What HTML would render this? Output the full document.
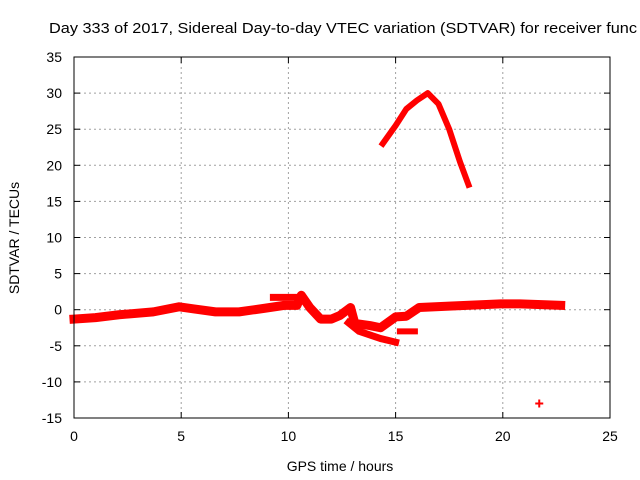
<!DOCTYPE html>
<html><head><meta charset="utf-8"><style>
body{margin:0;background:#fff;}
svg{display:block;font-family:"Liberation Sans",sans-serif;}
</style></head><body>
<svg id="chart" width="640" height="480" viewBox="0 0 640 480">
<text x="49" y="33" font-size="15" textLength="588" lengthAdjust="spacingAndGlyphs" fill="#000">Day 333 of 2017, Sidereal Day-to-day VTEC variation (SDTVAR) for receiver func</text>
<g id="grid"></g>
<g id="series"></g>
<rect x="74" y="57" width="536" height="361" fill="none" stroke="#000" stroke-width="1"/>
<g id="ticks"></g>
<text x="340" y="471" font-size="14" text-anchor="middle">GPS time / hours</text>
<text transform="translate(19,238) rotate(-90)" font-size="14" text-anchor="middle">SDTVAR / TECUs</text>
</svg>
<script>
const xTicks=[0,5,10,15,20,25];
const yTicks=[35,30,25,20,15,10,5,0,-5,-10,-15];
const mainH=[0,1,2.1,3.7,4.9,5.6,6.6,7.7,8.9,9.8,10.4,10.6,11,11.5,12,12.4,12.9,13.1,13.8,14.3,15,15.5,16.1,17.5,19.9,20.8,21.8,22.7];
const mainV=[-1.3,-1.1,-0.7,-0.3,0.4,0.1,-0.3,-0.3,0.2,0.6,0.6,2,0.3,-1.3,-1.3,-0.8,0.3,-1.9,-2.2,-2.5,-1,-0.9,0.3,0.5,0.8,0.8,0.7,0.6];
const lowH=[12.8,13.3,14.3,15];
const lowV=[-1.8,-3,-4,-4.5];
const lowH2=[15.2,15.9];
const lowV2=[-3,-3];
const segH=[9.3,10.3];
const segV=[1.7,1.7];
const arcH=[14.4,15,15.5,16,16.5,17,17.5,18,18.4];
const arcV=[23,25.5,27.8,29,30,28.5,25,20.5,17.3];
const ptH=[21.7];
const ptV=[-13];
const NS="http://www.w3.org/2000/svg";
const X=h=>74+h*536/25;
const Y=v=>57+(35-v)*361/50;
const grid=document.getElementById('grid'),ticks=document.getElementById('ticks'),ser=document.getElementById('series');
function mk(tag,attrs,parent){const e=document.createElementNS(NS,tag);for(const k in attrs)e.setAttribute(k,attrs[k]);parent.appendChild(e);return e;}
xTicks.forEach(t=>{
 const x=X(t);
 if(t>0&&t<25){const g=mk('line',{x1:x,x2:x,y1:57,y2:418,stroke:'#a0a0a0','stroke-dasharray':'2,3'},grid);
 
 }
 mk('line',{x1:x,x2:x,y1:418,y2:412,stroke:'#000'},ticks);
 mk('line',{x1:x,x2:x,y1:57,y2:63,stroke:'#000'},ticks);
 const l=mk('text',{x:x,y:441,'font-size':14,'text-anchor':'middle'},ticks);l.textContent=t;
 
 
});
yTicks.forEach(t=>{
 const y=Y(t);
 if(t<35&&t>-15){const g=mk('line',{x1:74,x2:610,y1:y,y2:y,stroke:'#a0a0a0','stroke-dasharray':'2,3'},grid);
 
 }
 mk('line',{x1:74,x2:80,y1:y,y2:y,stroke:'#000'},ticks);
 mk('line',{x1:610,x2:604,y1:y,y2:y,stroke:'#000'},ticks);
 const l=mk('text',{x:62,y:y+5,'font-size':14,'text-anchor':'end'},ticks);l.textContent=t;
 
 
});
function line(hs,vs,name,w){
 const p=mk('polyline',{points:hs.map((h,i)=>X(h)+','+Y(vs[i])).join(' '),fill:'none',stroke:'#ff0000','stroke-width':w,'stroke-linejoin':'round','stroke-linecap':'square'},ser);
 
 
}
line(mainH,mainV,'sdtvar-main-series',9);
line(lowH,lowV,'sdtvar-lower-branch',7);
line(lowH2,lowV2,'sdtvar-lower-segment',6);
line(segH,segV,'sdtvar-upper-segment',7);
line(arcH,arcV,'sdtvar-arc-series',6);
ptH.forEach((h,i)=>{
 const x=X(h),y=Y(ptV[i]);
 const p=mk('path',{d:`M${x-4},${y}H${x+4}M${x},${y-4}V${y+4}`,stroke:'#ff0000','stroke-width':2},ser);
 
 
});
</script>
</body></html>
